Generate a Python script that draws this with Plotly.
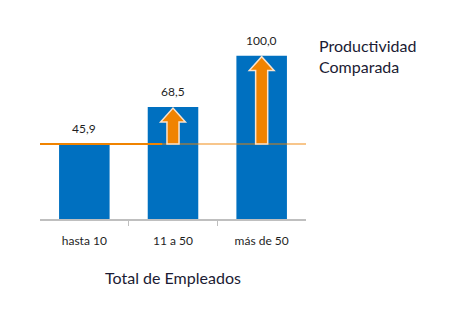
import plotly.graph_objects as go

categories = ["hasta 10", "11 a 50", "más de 50"]
values = [45.9, 68.5, 100.0]
labels = ["45,9", "68,5", "100,0"]
reference_value = values[0]

BLUE = "#0070C0"
ORANGE = "#F08300"
TEXT = "#1E1E1E"
TITLE = "#1B1B33"
FONT = "Lato, 'Open Sans', sans-serif"

x_pos = list(range(len(categories)))

fig = go.Figure()
fig.add_trace(go.Bar(
    x=x_pos, y=values, width=0.57,
    marker=dict(color=BLUE, line=dict(width=0)),
    hoverinfo="skip",
))

# reference level: solid up to the second bar, faded beyond
fig.add_shape(type="line", xref="x", yref="y",
              x0=-0.55, x1=0.88, y0=reference_value, y1=reference_value,
              line=dict(color=ORANGE, width=2))
fig.add_shape(type="line", xref="x", yref="y",
              x0=0.88, x1=2.5, y0=reference_value, y1=reference_value,
              line=dict(color=ORANGE, width=2), opacity=0.45)

# upward arrows showing the gain over the reference level
shaft_half = 0.068
head_half = 0.14
head_h = 8.5
for xi, v in zip(x_pos, values):
    if v <= reference_value:
        continue
    top = v - 0.6
    neck = top - head_h
    path = (f"M {xi - shaft_half},{reference_value} "
            f"L {xi - shaft_half},{neck} L {xi - head_half},{neck} "
            f"L {xi},{top} L {xi + head_half},{neck} "
            f"L {xi + shaft_half},{neck} L {xi + shaft_half},{reference_value} Z")
    fig.add_shape(type="path", xref="x", yref="y", path=path,
                  fillcolor=ORANGE, line=dict(color="#FBE3CC", width=1.5))

for xi, v, t in zip(x_pos, values, labels):
    fig.add_annotation(x=xi, y=v, text=t, showarrow=False, yanchor="bottom",
                       yshift=6, font=dict(family=FONT, size=12, color=TEXT))

fig.add_annotation(xref="paper", yref="paper", x=1.04, y=0.945, xanchor="left",
                   yanchor="top", align="left", showarrow=False,
                   text="Productividad<br>Comparada",
                   font=dict(family=FONT, size=16, color=TITLE))

fig.update_layout(
    width=465, height=322,
    margin=dict(l=40, r=159, t=23, b=103),
    paper_bgcolor="white", plot_bgcolor="white",
    showlegend=False,
    xaxis=dict(
        range=[-0.5, 2.5],
        tickmode="array", tickvals=x_pos, ticktext=categories,
        ticks="outside", ticklen=10, tickcolor="rgba(0,0,0,0)",
        tickfont=dict(family=FONT, size=12, color=TEXT),
        showline=True, linecolor="#BFBFBF", linewidth=1.5,
        showgrid=False, zeroline=False,
        minor=dict(tickmode="array", tickvals=[0.5, 1.5], ticks="outside",
                   ticklen=5, tickcolor="#BFBFBF", tickwidth=1, showgrid=False),
        title=dict(text="Total de Empleados", standoff=26,
                   font=dict(family=FONT, size=16, color=TITLE)),
        fixedrange=True,
    ),
    yaxis=dict(range=[0, 120], visible=False, fixedrange=True),
)

fig.write_html("out.html")
